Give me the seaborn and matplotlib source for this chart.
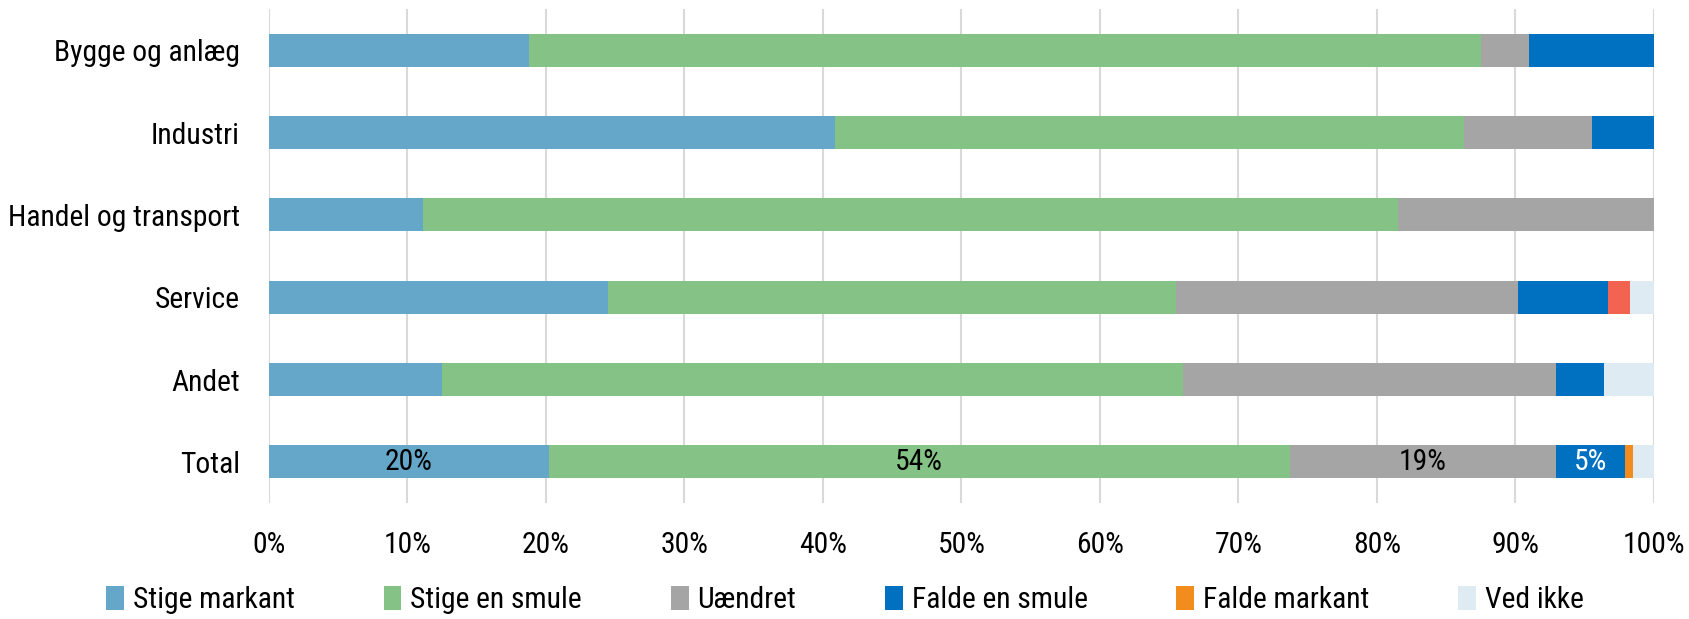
import numpy as np
import pandas as pd
import matplotlib
matplotlib.use("Agg")
import matplotlib.pyplot as plt
import seaborn as sns
from matplotlib.patches import Patch

categories = ["Bygge og anlæg", "Industri", "Handel og transport", "Service", "Andet", "Total"]
series = ["Stige markant", "Stige en smule", "Uændret", "Falde en smule", "Falde markant", "Ved ikke"]
stige_markant = [18.8, 40.9, 11.1, 24.5, 12.5, 20.2]
stige_en_smule = [68.7, 45.4, 70.4, 41.0, 53.5, 53.5]
uaendret = [3.5, 9.2, 18.5, 24.7, 26.9, 19.2]
falde_en_smule = [9.0, 4.5, 0.0, 6.5, 3.5, 5.0]
falde_markant = [0.0, 0.0, 0.0, 1.6, 0.0, 0.6]
ved_ikke = [0.0, 0.0, 0.0, 1.7, 3.6, 1.5]
total_labels = ["20%", "54%", "19%", "5%"]
x_ticks = [0, 10, 20, 30, 40, 50, 60, 70, 80, 90, 100]

colors = ["#65A7C9", "#84C285", "#A5A5A5", "#0070C0", "#F28C1C", "#DEEBF3"]
service_falde_markant_color = "#F26451"

sns.set_theme(style="white")
plt.rcParams["font.family"] = ["Liberation Sans Narrow", "Arial Narrow", "Roboto Condensed",
                               "Archivo Narrow", "PT Sans Narrow", "DejaVu Sans"]
plt.rcParams["text.color"] = "black"
plt.rcParams["xtick.color"] = "black"
plt.rcParams["ytick.color"] = "black"
plt.rcParams["xtick.labelcolor"] = "black"
plt.rcParams["ytick.labelcolor"] = "black"
FS = 21.3

values = np.array([stige_markant, stige_en_smule, uaendret, falde_en_smule, falde_markant, ved_ikke])
cum = np.cumsum(values, axis=0)

fig = plt.figure(figsize=(16.9, 6.19), dpi=100)
ax = fig.add_axes([269 / 1690, 1 - 503 / 619, (1654 - 269) / 1690, (503 - 9) / 619])

for k in range(len(series) - 1, -1, -1):
    df = pd.DataFrame({"cat": categories, "val": cum[k]})
    n_before = len(ax.patches)
    sns.barplot(data=df, x="val", y="cat", color=colors[k], orient="h", width=0.4,
                saturation=1, ax=ax, linewidth=0, errorbar=None)
    if k == 4:
        new = ax.patches[n_before:]
        new[categories.index("Service")].set_facecolor(service_falde_markant_color)

ax.set_xlim(0, 100)
ax.set_ylim(5.5, -0.5)
ax.set_xticks(x_ticks)
ax.set_xticklabels([f"{t}%" for t in x_ticks], fontsize=FS)
ax.tick_params(axis="x", length=0, pad=20, colors="black")
ax.tick_params(axis="y", length=0, pad=21, labelsize=FS, colors="black")
ax.set_xlabel("")
ax.set_ylabel("")
for s in ax.spines.values():
    s.set_visible(False)
ax.xaxis.grid(True, color="#D9D9D9", linewidth=1.5)
ax.yaxis.grid(False)
ax.set_axisbelow(True)

# data labels on Total
ti = categories.index("Total")
label_colors = ["black", "black", "black", "white"]
for k, lab in enumerate(total_labels):
    left = cum[k][ti] - values[k][ti]
    ax.text(left + values[k][ti] / 2, ti, lab, ha="center", va="center",
            fontsize=FS, color=label_colors[k])

handles = [Patch(facecolor=c, edgecolor="none") for c in colors]
fig.legend(handles, series, loc="center", bbox_to_anchor=(0.5, 1 - 600 / 619), ncol=6,
           frameon=False, fontsize=FS, handlelength=0.6, handleheight=0.9,
           handletextpad=0.3, columnspacing=3.0, borderaxespad=0, labelcolor="black")

fig.savefig("out.png", dpi=100)
